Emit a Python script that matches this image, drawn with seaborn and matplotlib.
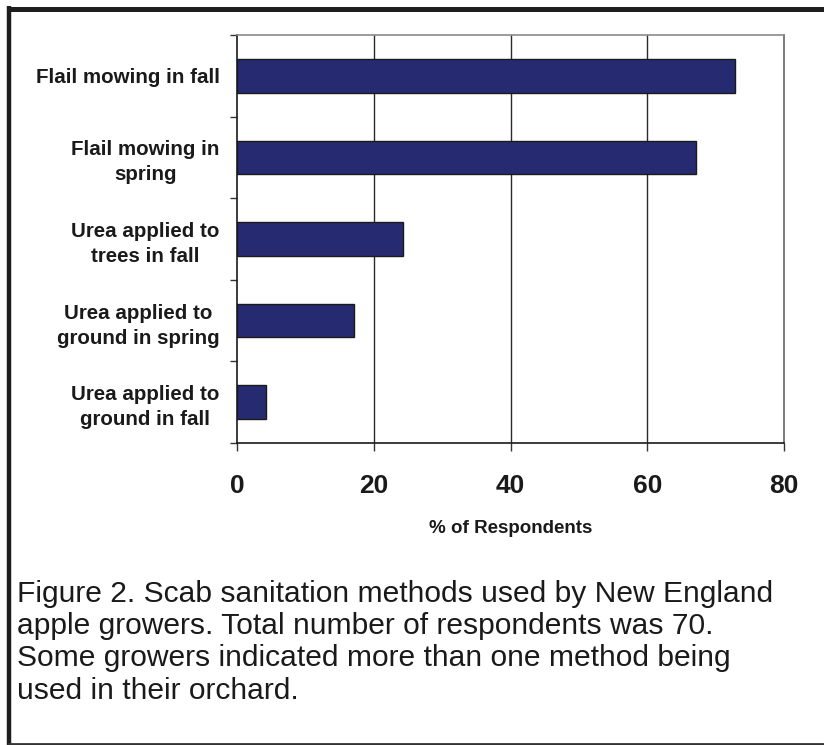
import matplotlib
matplotlib.use("Agg")
import matplotlib.pyplot as plt
import seaborn as sns
import pandas as pd
from matplotlib.lines import Line2D

# Survey results: share of respondents using each scab sanitation method
methods = [
    "Flail mowing in fall",
    "Flail mowing in\nspring",
    "Urea applied to\ntrees in fall",
    "Urea applied to\nground in spring",
    "Urea applied to\nground in fall",
]
percent = [72.9, 67.1, 24.3, 17.1, 4.3]
x_ticks = [0, 20, 40, 60, 80]

caption = ("Figure 2. Scab sanitation methods used by New England\n"
           "apple growers. Total number of respondents was 70.\n"
           "Some growers indicated more than one method being\n"
           "used in their orchard.")

sns.set_style("white")
plt.rcParams["font.family"] = ["Liberation Sans", "DejaVu Sans"]

W, H = 824, 745
fig = plt.figure(figsize=(W / 100, H / 100), dpi=100)
ax = fig.add_axes([237 / W, 1 - 443 / H, (784 - 237) / W, (443 - 35) / H])

df = pd.DataFrame({"method": methods, "percent": percent})
sns.barplot(data=df, x="percent", y="method", orient="h", color="#262a70",
            saturation=1, width=0.41, edgecolor="#1a1a1a", linewidth=1.0, ax=ax)

ax.set_xlim(0, 80)
ax.set_ylim(len(methods) - 0.5, -0.5)

# vertical gridlines behind the bars
for v in x_ticks[1:-1]:
    ax.axvline(v, color="#2a2a2a", lw=1.0, zorder=0)

# x axis
ax.set_xticks(x_ticks)
ax.set_xticklabels([str(v) for v in x_ticks], fontsize=19, fontweight="bold",
                   color="#1a1a1a")
ax.tick_params(axis="x", direction="out", length=6, width=1, color="#333333",
               pad=16, bottom=True)
ax.set_xlabel("% of Respondents", fontsize=13.5, fontweight="bold",
              color="#1a1a1a", labelpad=16)

# y axis: labels at bar centres, ticks at category boundaries
ax.set_yticks(range(len(methods)))
ax.set_yticklabels(methods, fontsize=14.8, fontweight="bold", color="#1a1a1a",
                   linespacing=1.4, multialignment="center")
ax.tick_params(axis="y", which="major", length=0, pad=12.5)
ax.set_yticks([i - 0.5 for i in range(len(methods) + 1)], minor=True)
ax.tick_params(axis="y", which="minor", direction="out", length=5, width=1,
               color="#333333", left=True)
ax.set_ylabel("")

for side, col, lw in [("left", "#1a1a1a", 1.2), ("bottom", "#1a1a1a", 1.2),
                      ("top", "#8a8a8a", 1.2), ("right", "#666666", 1.2)]:
    ax.spines[side].set_visible(True)
    ax.spines[side].set_color(col)
    ax.spines[side].set_linewidth(lw)

# caption below the chart
fig.text(17 / W, 1 - 580 / H, caption, ha="left", va="top", fontsize=21.6,
         color="#1a1a1a", linespacing=1.19)

# surrounding frame
def px_line(x0, y0, x1, y1, lw, color):
    fig.add_artist(Line2D([x0 / W, x1 / W], [1 - y0 / H, 1 - y1 / H],
                          transform=fig.transFigure, lw=lw, color=color,
                          solid_capstyle="butt"))

px_line(9, 6, 9, 745, 3.2, "#1e1e1e")
px_line(7, 8.5, 824, 8.5, 3.6, "#1e1e1e")
px_line(7, 743.5, 824, 743.5, 2.0, "#333333")

fig.savefig("out.png", dpi=100, facecolor="white")
